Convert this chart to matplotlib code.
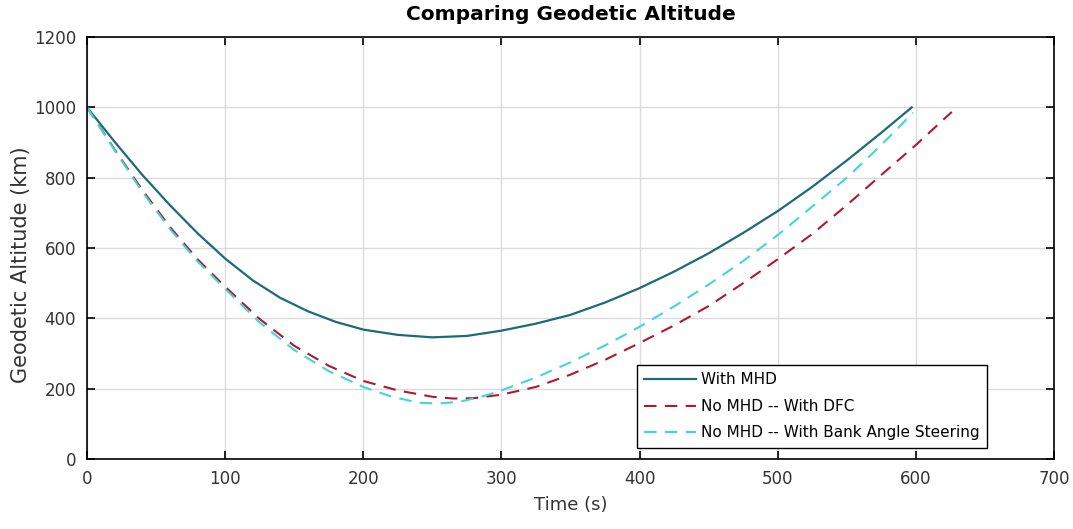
import matplotlib
matplotlib.use('Agg')
import matplotlib.pyplot as plt

# values (time in s, altitude in km)
t_mhd = [0, 20, 40, 60, 80, 100, 120, 140, 160, 180, 200, 225, 250, 275, 300, 325, 350, 375,
         400, 425, 450, 475, 500, 525, 550, 575, 597]
alt_mhd = [1000, 902, 808, 722, 642, 570, 508, 458, 420, 390, 368, 353, 346, 350, 365, 385, 410, 445,
           486, 533, 585, 643, 705, 774, 849, 928, 1000]

t_dfc = [0, 20, 40, 60, 80, 100, 125, 150, 175, 200, 225, 250, 265, 280, 300, 325, 350, 375,
         400, 425, 450, 475, 500, 525, 550, 575, 600, 626]
alt_dfc = [1000, 880, 765, 660, 568, 490, 398, 322, 265, 222, 195, 177, 172, 173, 183, 205, 240, 282,
           330, 380, 435, 500, 568, 640, 722, 808, 893, 987]

t_bank = [0, 20, 40, 60, 80, 100, 125, 150, 175, 200, 220, 240, 255, 270, 288, 300, 325, 350, 375,
          400, 425, 450, 475, 500, 525, 550, 575, 598]
alt_bank = [1000, 878, 760, 654, 562, 484, 388, 310, 250, 205, 178, 160, 158, 163, 180, 195, 232, 275, 323,
            376, 434, 496, 563, 637, 718, 800, 893, 985]

labels = ["With MHD", "No MHD -- With DFC", "No MHD -- With Bank Angle Steering"]

fig = plt.figure(figsize=(10.73, 5.29), dpi=100)
ax = fig.add_axes([0.0811, 0.1323, 0.9012, 0.7977])

ax.plot(t_mhd, alt_mhd, "-", color="#1c6b7a", linewidth=1.6, label=labels[0])
ax.plot(t_dfc, alt_dfc, "--", color="#b2182b", linewidth=1.5, dashes=(6, 4), label=labels[1])
ax.plot(t_bank, alt_bank, "--", color="#3fd6dc", linewidth=1.5, dashes=(6, 4), label=labels[2])

ax.set_xlim(0, 700)
ax.set_ylim(0, 1200)
ax.set_xticks(range(0, 701, 100))
ax.set_yticks(range(0, 1201, 200))
ax.grid(True, color="#dcdcdc", linewidth=1.0)
ax.set_axisbelow(True)
ax.tick_params(direction="in", top=True, right=True, length=6, width=1.2,
               labelsize=12, labelcolor="#333333", pad=8)
for s in ax.spines.values():
    s.set_linewidth(1.2)

ax.set_xlabel("Time (s)", fontsize=13, color="#333333", labelpad=6)
ax.set_ylabel("Geodetic Altitude (km)", fontsize=15, color="#333333")
ax.yaxis.set_label_coords(-0.058, 0.46)
ax.set_title("Comparing Geodetic Altitude", fontsize=14.5, fontweight="bold", pad=12)

leg = ax.legend(loc="lower right", bbox_to_anchor=(0.931, 0.026), borderaxespad=0,
                fancybox=False, edgecolor="black", framealpha=1, fontsize=11,
                handlelength=3.4, handletextpad=0.3, borderpad=0.5, labelspacing=0.75)
leg.get_frame().set_linewidth(1.0)

fig.savefig("out.png", dpi=100)
